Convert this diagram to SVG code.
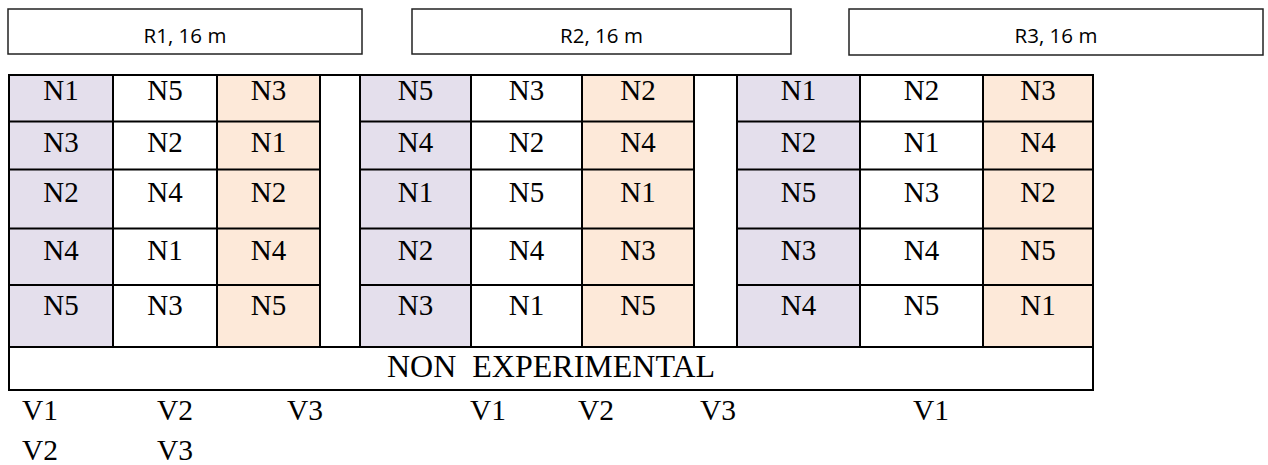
<svg xmlns="http://www.w3.org/2000/svg" width="1268" height="465" viewBox="0 0 1268 465">
<style>
.hdr{fill:#fff;stroke:#222;stroke-width:1.5}
.hl{font-family:"Open Sans","Liberation Sans",sans-serif;font-size:20.5px;fill:#000;text-anchor:middle}
.p{fill:#E4DFEC}
.o{fill:#FDE9D9}
.g{stroke:#000;stroke-width:2;fill:none}
.t{font-family:"Liberation Serif","Times New Roman",serif;font-size:29px;fill:#000;text-anchor:middle}
.n{font-family:"Liberation Serif","Times New Roman",serif;font-size:32px;fill:#000;text-anchor:middle}
.v{font-family:"Liberation Serif","Times New Roman",serif;font-size:29.5px;fill:#000}
</style>
<rect width="1268" height="465" fill="#fff"/>
<g id="R1"><rect class="hdr" x="8" y="9" width="354" height="45"/><text class="hl" x="185" y="43">R1, 16 m</text></g>
<g id="R2"><rect class="hdr" x="412" y="9" width="379" height="45"/><text class="hl" x="601.5" y="43">R2, 16 m</text></g>
<g id="R3"><rect class="hdr" x="849" y="9" width="414" height="46"/><text class="hl" x="1056" y="43">R3, 16 m</text></g>
<g id="fills">
<rect class="p" x="9" y="75" width="104" height="272"/>
<rect class="o" x="217" y="75" width="103" height="272"/>
<rect class="p" x="360" y="75" width="111" height="272"/>
<rect class="o" x="582" y="75" width="112" height="272"/>
<rect class="p" x="737" y="75" width="123" height="272"/>
<rect class="o" x="983" y="75" width="110" height="272"/>
</g>
<g id="grid" class="g">
<rect x="9" y="75" width="1084" height="315"/>
<path d="M9 347H1093"/>
<path d="M113 75V347M217 75V347M320 75V347M360 75V347M471 75V347M582 75V347M694 75V347M737 75V347M860 75V347M983 75V347"/>
<path d="M9 121.5H320M9 169.5H320M9 228.5H320M9 285H320"/>
<path d="M360 121.5H694M360 169.5H694M360 228.5H694M360 285H694"/>
<path d="M737 121.5H1093M737 169.5H1093M737 228.5H1093M737 285H1093"/>
</g>
<g id="rep1">
<text class="t" x="61" y="100">N1</text><text class="t" x="165" y="100">N5</text><text class="t" x="268.5" y="100">N3</text>
<text class="t" x="61" y="152">N3</text><text class="t" x="165" y="152">N2</text><text class="t" x="268.5" y="152">N1</text>
<text class="t" x="61" y="202">N2</text><text class="t" x="165" y="202">N4</text><text class="t" x="268.5" y="202">N2</text>
<text class="t" x="61" y="260">N4</text><text class="t" x="165" y="260">N1</text><text class="t" x="268.5" y="260">N4</text>
<text class="t" x="61" y="315">N5</text><text class="t" x="165" y="315">N3</text><text class="t" x="268.5" y="315">N5</text>
</g>
<g id="rep2">
<text class="t" x="415.5" y="100">N5</text><text class="t" x="526.5" y="100">N3</text><text class="t" x="638" y="100">N2</text>
<text class="t" x="415.5" y="152">N4</text><text class="t" x="526.5" y="152">N2</text><text class="t" x="638" y="152">N4</text>
<text class="t" x="415.5" y="202">N1</text><text class="t" x="526.5" y="202">N5</text><text class="t" x="638" y="202">N1</text>
<text class="t" x="415.5" y="260">N2</text><text class="t" x="526.5" y="260">N4</text><text class="t" x="638" y="260">N3</text>
<text class="t" x="415.5" y="315">N3</text><text class="t" x="526.5" y="315">N1</text><text class="t" x="638" y="315">N5</text>
</g>
<g id="rep3">
<text class="t" x="798.5" y="100">N1</text><text class="t" x="921.5" y="100">N2</text><text class="t" x="1038" y="100">N3</text>
<text class="t" x="798.5" y="152">N2</text><text class="t" x="921.5" y="152">N1</text><text class="t" x="1038" y="152">N4</text>
<text class="t" x="798.5" y="202">N5</text><text class="t" x="921.5" y="202">N3</text><text class="t" x="1038" y="202">N2</text>
<text class="t" x="798.5" y="260">N3</text><text class="t" x="921.5" y="260">N4</text><text class="t" x="1038" y="260">N5</text>
<text class="t" x="798.5" y="315">N4</text><text class="t" x="921.5" y="315">N5</text><text class="t" x="1038" y="315">N1</text>
</g>
<g id="nonexp"><text class="n" x="551" y="377" xml:space="preserve">NON  EXPERIMENTAL</text></g>
<g id="vlabels">
<text class="v" x="22" y="420">V1</text><text class="v" x="157" y="420">V2</text><text class="v" x="287" y="420">V3</text>
<text class="v" x="470" y="420">V1</text><text class="v" x="578" y="420">V2</text><text class="v" x="700" y="420">V3</text>
<text class="v" x="913" y="420">V1</text>
<text class="v" x="22" y="460">V2</text><text class="v" x="157" y="460">V3</text>
</g>
</svg>
